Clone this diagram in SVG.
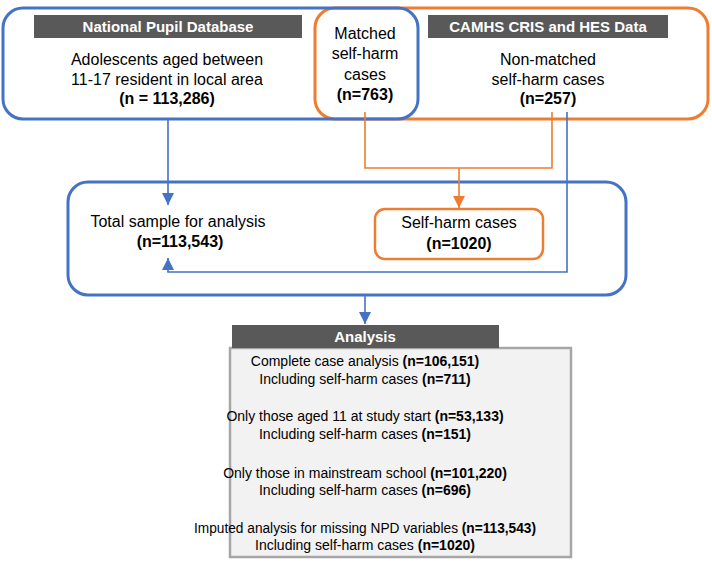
<svg xmlns="http://www.w3.org/2000/svg" width="712" height="562" viewBox="0 0 712 562">
<defs>
<style>
text{font-family:"Liberation Sans",Arial,sans-serif;fill:#000}
.t{font-size:16px;text-anchor:middle}
.b{font-weight:bold}
.h{font-size:15px;font-weight:bold;fill:#fff;text-anchor:middle}
.g{font-size:14px;text-anchor:middle}
.blue{fill:none;stroke:#4472C4;stroke-width:3}
.orange{fill:none;stroke:#ED7D31;stroke-width:3}
.cb{fill:none;stroke:#4472C4;stroke-width:1.6}
.co{fill:none;stroke:#ED7D31;stroke-width:1.6}
.hd{fill:#595959}
</style>
<marker id="ab" markerUnits="userSpaceOnUse" markerWidth="12" markerHeight="12" viewBox="0 0 12 12" refX="12" refY="6" orient="auto"><path d="M0,0 L12,6 L0,12 z" fill="#4472C4"/></marker>
<marker id="ao" markerUnits="userSpaceOnUse" markerWidth="12" markerHeight="12" viewBox="0 0 12 12" refX="12" refY="6" orient="auto"><path d="M0,0 L12,6 L0,12 z" fill="#ED7D31"/></marker>
</defs>

<g id="cams">
<rect class="orange" x="315" y="8" width="393" height="111" rx="20"/>
<rect class="hd" x="428" y="15" width="240" height="23"/>
<text class="h" x="548" y="32">CAMHS CRIS and HES Data</text>
<text class="t" x="548" y="65">Non-matched</text>
<text class="t" x="548" y="85">self-harm cases</text>
<text class="t b" x="548" y="104">(n=257)</text>
</g>

<g id="npd">
<rect class="blue" x="3" y="8" width="415" height="111" rx="20"/>
<rect class="hd" x="34" y="15" width="268" height="23"/>
<text class="h" x="168" y="32">National Pupil Database</text>
<text class="t" x="167" y="65">Adolescents aged between</text>
<text class="t" x="167" y="85">11-17 resident in local area</text>
<text class="t b" x="167" y="104">(n = 113,286)</text>
</g>

<g id="matched">
<text class="t" x="365" y="39">Matched</text>
<text class="t" x="365" y="59">self-harm</text>
<text class="t" x="365" y="80">cases</text>
<text class="t b" x="365" y="100">(n=763)</text>
</g>

<g id="total">
<rect class="blue" x="68" y="182" width="558" height="113" rx="20"/>
<text class="t" x="178" y="227">Total sample for analysis</text>
<text class="t b" x="180" y="247">(n=113,543)</text>
</g>

<g id="selfharm">
<rect x="375" y="209" width="168" height="50" rx="10" fill="#fff" stroke="#ED7D31" stroke-width="2.5"/>
<text class="t" x="459" y="228">Self-harm cases</text>
<text class="t b" x="459" y="249">(n=1020)</text>
</g>

<g id="analysis">
<rect x="230" y="348" width="341" height="209" fill="#F2F2F2" stroke="#A6A6A6" stroke-width="2.5"/>
<rect class="hd" x="232" y="325" width="267" height="23"/>
<text class="h" x="365" y="342">Analysis</text>
<text class="g" x="365" y="366">Complete case analysis <tspan class="b">(n=106,151)</tspan></text>
<text class="g" x="365" y="384">Including self-harm cases <tspan class="b">(n=711)</tspan></text>
<text class="g" x="365" y="421">Only those aged 11 at study start <tspan class="b">(n=53,133)</tspan></text>
<text class="g" x="365" y="439">Including self-harm cases <tspan class="b">(n=151)</tspan></text>
<text class="g" x="365" y="478">Only those in mainstream school <tspan class="b">(n=101,220)</tspan></text>
<text class="g" x="365" y="495">Including self-harm cases <tspan class="b">(n=696)</tspan></text>
<text class="g" x="365" y="533" textLength="342" lengthAdjust="spacingAndGlyphs">Imputed analysis for missing NPD variables <tspan class="b">(n=113,543)</tspan></text>
<text class="g" x="365" y="550">Including self-harm cases <tspan class="b">(n=1020)</tspan></text>
</g>

<g id="connectors">
<path class="cb" d="M168,119 V205" marker-end="url(#ab)"/>
<path class="co" d="M365,112 V168 H552 V112"/>
<path class="co" d="M459,168 V208" marker-end="url(#ao)"/>
<path class="cb" d="M567,112 V272 H168 V258" marker-end="url(#ab)"/>
<path class="cb" d="M365,295 V324" stroke-width="2.5" marker-end="url(#ab)"/>
</g>
</svg>
